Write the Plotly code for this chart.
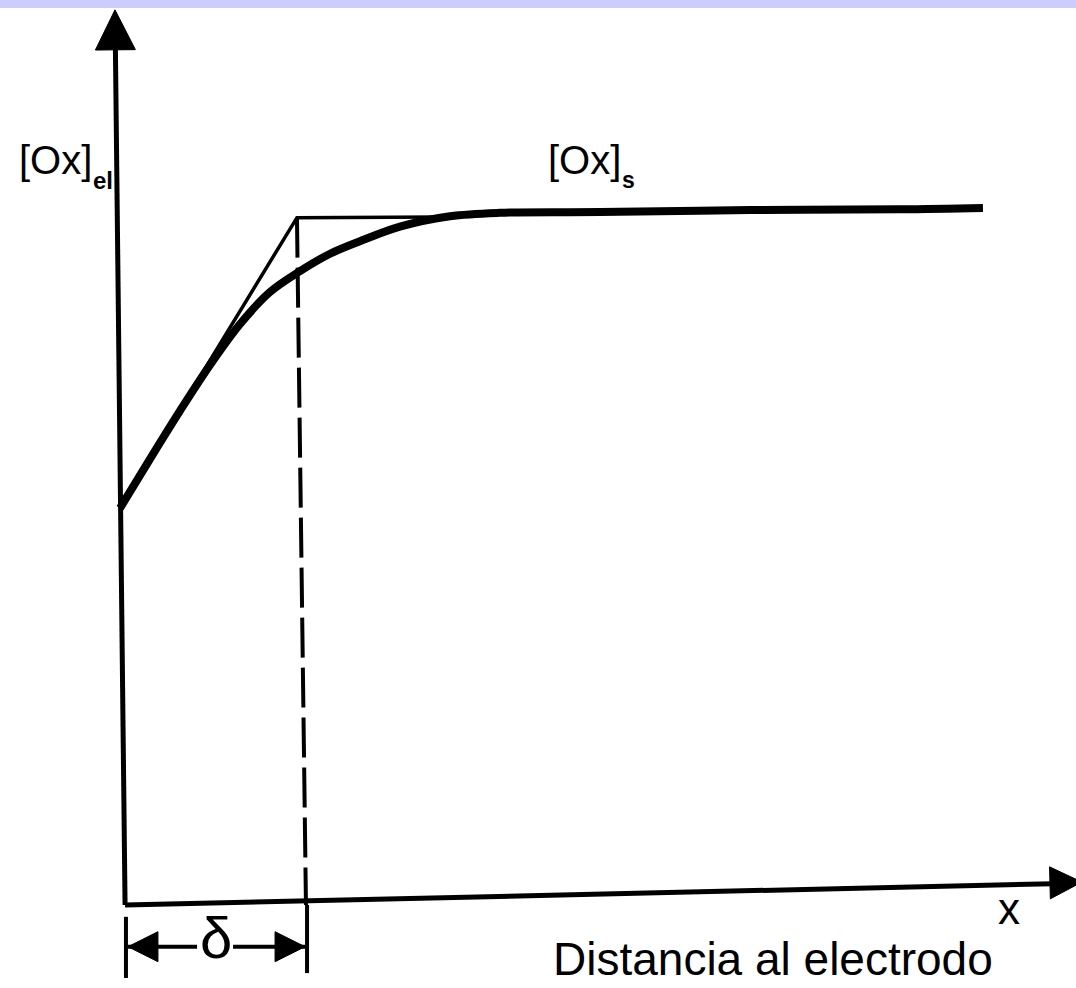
import plotly.graph_objects as go

# ---- data (x: distance from electrode in units of delta, y: [Ox] relative to bulk [Ox]_s) ----
curve_x = [-0.011, 0.156, 0.322, 0.489, 0.656, 0.822, 0.989, 1.156, 1.322, 1.544, 1.822, 2.100, 2.656, 3.489, 4.322, 4.783]
curve_y = [0.571, 0.642, 0.711, 0.777, 0.836, 0.882, 0.912, 0.937, 0.955, 0.976, 0.991, 0.996, 0.997, 1.000, 1.001, 1.003]

linear_x = [-0.011, 0.972, 1.767]
linear_y = [0.571, 0.989, 0.990]

delta_line_x = [0.972, 1.022]
delta_line_y = [0.989, 0.0]

yaxis_line_x = [0.017, -0.0375]
yaxis_line_y = [0.0, 1.252]
xaxis_line_x = [0.017, 5.239]
xaxis_line_y = [0.0, 0.031]

delta_bar_left_x = [0.022, 0.022]
delta_bar_left_y = [-0.017, -0.105]
delta_bar_right_x = [1.028, 1.028]
delta_bar_right_y = [0.0, -0.098]
delta_arrow_left_x = [0.033, 0.417]
delta_arrow_right_x = [0.617, 1.017]
delta_arrow_y = [-0.060, -0.060]

head_x = [-0.039, 5.333, 0.033, 1.017]
head_y = [1.288, 0.033, -0.060, -0.060]
head_symbol = ["arrow-up", "arrow-right", "arrow-left", "arrow-right"]
head_angle = [-0.6, -1.4, 0, 0]
head_size = [40, 32, 30, 30]

# pixel frame of the picture (layout only)
W, H = 1076, 988
X0, XS = 122, 180.0
Y0, YS = 905, 695.0


def px(x):
    return (x - X0) / XS


def py(y):
    return (Y0 - y) / YS


FONT = "Liberation Sans, Arial, sans-serif"
BLACK = "#000000"

fig = go.Figure()


def line(xs, ys, width, dash="solid", shape="linear"):
    fig.add_trace(go.Scatter(x=xs, y=ys, mode="lines",
                             line=dict(color=BLACK, width=width, dash=dash, shape=shape),
                             hoverinfo="skip", showlegend=False))


line(yaxis_line_x, yaxis_line_y, 5)
line(xaxis_line_x, xaxis_line_y, 5)
line(delta_line_x, delta_line_y, 4, dash="40px,10px")
line(linear_x, linear_y, 3.5)
line(curve_x, curve_y, 8, shape="spline")
line(delta_bar_left_x, delta_bar_left_y, 4)
line(delta_bar_right_x, delta_bar_right_y, 4)
line(delta_arrow_left_x, delta_arrow_y, 4)
line(delta_arrow_right_x, delta_arrow_y, 4)

fig.add_trace(go.Scatter(x=head_x, y=head_y, mode="markers", opacity=1,
                         marker=dict(symbol=head_symbol, angle=head_angle, size=head_size,
                                     color=BLACK, opacity=1, line=dict(width=1, color=BLACK)),
                         hoverinfo="skip", showlegend=False))


def label(text, x, y, size, anchor="left", bold=False):
    fig.add_annotation(x=px(x), y=py(y), text=("<b>%s</b>" % text) if bold else text,
                       showarrow=False, xanchor=anchor, yanchor="middle", borderpad=0,
                       font=dict(family=FONT, size=size, color=BLACK))


label("[Ox]", 18, 160, 40)
label("el", 92, 180, 24, bold=True)
label("[Ox]", 547, 160, 40)
label("s", 621, 180, 23, bold=True)
label("x", 1009, 908, 44, anchor="center")
label("Distancia al electrodo", 552, 959, 46)
label("δ", 216, 937, 58, anchor="center")

fig.update_layout(
    width=W, height=H, autosize=False,
    margin=dict(l=0, r=0, t=0, b=0, pad=0),
    paper_bgcolor="white", plot_bgcolor="white",
    xaxis=dict(range=[px(0), px(W)], visible=False, fixedrange=True),
    yaxis=dict(range=[py(H), py(0)], visible=False, fixedrange=True),
    shapes=[dict(type="rect", xref="paper", yref="paper", x0=0, x1=1,
                 y0=1 - 8 / H, y1=1, fillcolor="#ccccff", line=dict(width=0), layer="above")],
)

fig.write_html("out.html")
